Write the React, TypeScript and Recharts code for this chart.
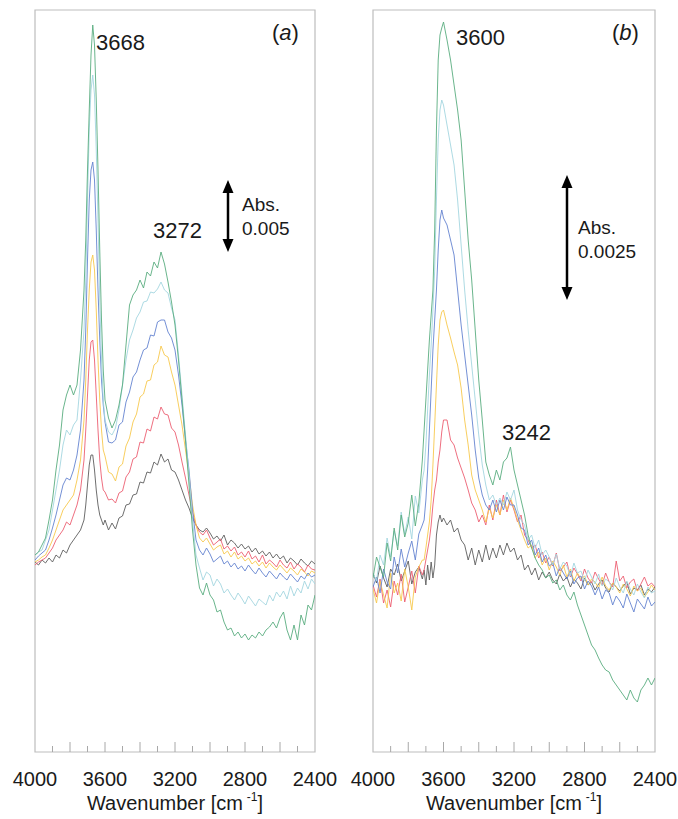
import React from 'react';
import { LineChart, Line, XAxis, YAxis, ReferenceArea, ReferenceLine } from 'recharts';

// wavenumber grid (cm-1), finer around the sharp 3668 band
const WAVENUMBERS = [
  4000, 3980, 3960, 3940, 3920, 3900, 3880, 3860, 3840, 3820, 3800, 3780, 3760, 3740, 3720,
  3710, 3700, 3690, 3680, 3670, 3660, 3650, 3640, 3630, 3620, 3610,
  3600, 3580, 3560, 3540, 3520, 3500, 3480, 3460, 3440, 3420,
  3400, 3380, 3360, 3340, 3320, 3300, 3280, 3260, 3240, 3220,
  3200, 3180, 3160, 3140, 3120, 3100, 3080, 3060, 3040, 3020,
  3000, 2980, 2960, 2940, 2920, 2900, 2880, 2860, 2840, 2820,
  2800, 2780, 2760, 2740, 2720, 2700, 2680, 2660, 2640, 2620,
  2600, 2580, 2560, 2540, 2520, 2500, 2480, 2460, 2440, 2420,
  2400,
];

const TICK_LABELS = [4000, 3600, 3200, 2800, 2400];
const MINOR_TICKS = [3900, 3800, 3700, 3600, 3500, 3400, 3300, 3200, 3100, 3000, 2900, 2800, 2700, 2600, 2500];

// panel (a) difference absorbance, arbitrary units (0.005 Abs = 70)
const A_GREEN = [
  5, 8, 15, 22, 40, 60, 90, 115, 150, 165, 175, 165, 175, 210, 270,
  320, 390, 450, 505, 535, 515, 460, 390, 310, 240, 190,
  160, 142, 132, 140, 155, 175, 215, 255, 265, 270,
  280, 272, 288, 284, 298, 292, 308, 296, 278, 258,
  235, 200, 160, 120, 75, 30, -5, -28, -35, -23,
  -35, -40, -52, -50, -62, -70, -68, -76, -72, -78,
  -74, -80, -75, -78, -72, -76, -70, -67, -62, -68,
  -58, -52, -70, -80, -65, -80, -55, -65, -45, -50,
  -35,
];
const A_CYAN = [
  5, 8, 10, 20, 30, 50, 70, 90, 115, 130, 125, 135, 140, 180, 230,
  280, 360, 430, 470, 485, 465, 410, 340, 260, 200, 160,
  140, 128, 125, 132, 150, 175, 200, 220, 230, 242,
  248, 258, 259, 268, 267, 271, 278, 270, 267, 252,
  240, 205, 165, 125, 85, 40, 5, -8, -20, -12,
  -15, -26, -19, -24, -33, -29, -35, -40, -33, -38,
  -44, -36, -41, -46, -39, -42, -45, -35, -41, -32,
  -37, -31, -39, -26, -36, -28, -33, -21, -29, -19,
  -24,
];
const A_BLUE = [
  0, 4, 7, 10, 20, 32, 45, 60, 75, 82, 80, 90, 105, 130, 180,
  230, 300, 360, 390, 398, 380, 330, 270, 220, 180, 155,
  138, 118, 117, 120, 135, 138, 158, 168, 183, 188,
  200, 210, 212, 225, 224, 238, 240, 240, 228, 222,
  210, 185, 155, 120, 90, 50, 20, 10, 5, 12,
  6, -2, 1, 4, -4, -1, -7, -3, -9, -6,
  -11, -5, -10, -14, -8, -13, -17, -11, -15, -19,
  -13, -17, -20, -14, -18, -22, -16, -19, -13, -17,
  -15,
];
const A_YELLOW = [
  -2, 0, 3, 5, 12, 20, 30, 40, 50, 55, 60, 65, 80, 100, 140,
  180, 230, 270, 298, 305, 290, 250, 200, 160, 130, 110,
  104, 88, 86, 79, 93, 96, 114, 122, 138, 146,
  163, 166, 179, 180, 195, 198, 214, 205, 203, 188,
  175, 155, 135, 110, 85, 55, 35, 22, 18, 22,
  16, 10, 13, 15, 6, 9, 3, 8, 1, 4,
  -1, 2, -4, -1, -6, -2, -8, -3, -7, -10,
  -5, -9, -13, -8, -11, -15, -9, -12, -16, -11,
  -13,
];
const A_RED = [
  -5, -2, 0, 2, 7, 12, 20, 25, 30, 38, 35, 45, 55, 70, 100,
  130, 165, 200, 218, 220, 200, 165, 130, 100, 82, 70,
  68, 60, 61, 57, 67, 69, 83, 88, 101, 103,
  118, 117, 131, 129, 143, 141, 153, 146, 145, 132,
  128, 115, 98, 82, 65, 48, 35, 28, 25, 30,
  22, 15, 18, 21, 11, 14, 9, 13, 5, 8,
  3, 9, 1, 4, -2, 5, -4, 0, -3, -7,
  0, -5, -8, -2, -9, -4, -7, -12, -5, -9,
  -10,
];
const A_GRAY = [
  -2, -5, 0, -3, 2, -2, 5, 2, 10, 7, 15, 20, 25, 30, 40,
  55, 75, 95, 105, 105, 90, 70, 55, 45, 40, 35,
  40, 30, 37, 31, 42, 44, 55, 56, 65, 66,
  78, 77, 88, 87, 98, 95, 106, 98, 101, 90,
  88, 80, 70, 60, 52, 42, 35, 30, 28, 32,
  27, 21, 24, 19, 25, 15, 20, 17, 12, 16,
  11, 14, 8, 12, 6, 9, 4, 8, 2, 6,
  1, 4, -3, 2, -1, -5, 1, -3, -6, -1,
  -4,
];

// panel (b) difference absorbance, arbitrary units (0.0025 Abs = 125)
const B_GREEN = [
  -3, 18, 8, -2, 32, 14, 47, 25, 60, 38, 52, 80, 49, 72, 115,
  145, 175, 205, 235, 260, 285, 345, 445, 515, 540, 547,
  553, 535, 515, 490, 465, 435, 385, 335, 295, 245,
  195, 155, 113, 100, 90, 105, 95, 113, 117, 128,
  105, 90, 75, 60, 40, 27, 17, 10, 5, -3,
  0, -8, -5, -15, -10, -20, -25, -17, -30, -40,
  -50, -60, -70, -75, -83, -90, -95, -97, -105, -110,
  -115, -120, -125, -115, -123, -127, -115, -110, -103, -110,
  -103,
];
const B_CYAN = [
  2, -6, 20, 10, 37, 18, 44, 29, 63, 41, 58, 36, 79, 62, 95,
  105, 130, 165, 200, 230, 265, 305, 375, 435, 465, 475,
  470, 450, 430, 410, 375, 330, 285, 245, 210, 175,
  140, 110, 90, 75, 80, 70, 77, 70, 83, 75,
  85, 65, 55, 50, 35, 40, 27, 35, 20, 25,
  18, 10, 21, 6, 13, 9, -1, 12, 2, 4,
  -6, 5, -2, -9, 1, -11, -4, -7, -15, -3,
  -12, -18, -6, -14, -20, -9, -17, -23, -12, -18,
  -16,
];
const B_BLUE = [
  -12, -2, -18, 6, -7, -14, 18, 2, 26, 8, 22, 34, 15, 41, 50,
  55, 75, 105, 145, 185, 225, 255, 285, 325, 355, 365,
  357, 350, 335, 320, 285, 250, 220, 190, 160, 125,
  97, 80, 70, 65, 75, 63, 75, 65, 78, 70,
  70, 60, 47, 45, 30, 35, 20, 27, 13, 20,
  9, 12, -1, 8, 2, -4, 4, -9, -3, -1,
  -14, -6, -11, -20, -12, -24, -15, -18, -30, -21,
  -26, -33, -19, -28, -37, -24, -29, -34, -22, -31,
  -27,
];
const B_YELLOW = [
  -14, -28, -6, -20, -33, 2, -18, -8, -26, 6, -12, -35, -2, 8, 15,
  15, 27, 40, 53, 75, 110, 150, 190, 230, 255, 263,
  265, 250, 237, 223, 210, 187, 155, 130, 100, 85,
  75, 65, 53, 67, 57, 70, 60, 75, 65, 77,
  67, 55, 45, 35, 27, 30, 17, 23, 10, 17,
  5, 14, 8, 0, 10, -2, 6, -6, 2, -4,
  -1, -10, -4, -7, -13, -2, -11, -15, -8, -12,
  -18, -9, -14, -21, -11, -16, -13, -22, -17, -10,
  -15,
];
const B_RED = [
  -10, -22, -4, -28, -15, -32, -6, -20, 1, -27, -12, 4, -18, 9, 0,
  5, 15, 25, 35, 50, 70, 85, 95, 113, 125, 143,
  155, 155, 135, 130, 117, 107, 97, 85, 72, 65,
  53, 60, 50, 70, 55, 75, 60, 80, 63, 75,
  65, 53, 60, 40, 35, 27, 30, 17, 23, 12,
  18, 9, 22, 4, 8, 13, -2, 7, 1, -6,
  6, -3, -8, 3, -4, -10, 2, -7, -12, 14,
  -6, -1, -13, -7, -4, -16, -9, -2, -11, -8,
  -12,
];
const B_GRAY = [
  2, -8, 9, -3, -12, 6, 0, 11, -6, 4, 14, -9, 3, 8, -4,
  5, -10, 10, -5, 13, -3, 10, 40, 53, 60, 53,
  57, 50, 55, 43, 47, 35, 30, 15, 27, 10,
  25, 13, 30, 15, 27, 17, 30, 20, 32, 23,
  27, 15, 20, 5, 10, 0, 7, -5, 3, -3,
  3, -5, -9, 1, -6, -2, -12, -4, -8, -14,
  -3, -10, -7, -15, -9, -5, -13, -17, -8, -12,
  -16, -11, -7, -19, -13, -15, -10, -20, -14, -17,
  -12,
];

const SERIES = [
  { key: 'gray', color: '#5e5e5e' },
  { key: 'red', color: '#ec5f72' },
  { key: 'yellow', color: '#f7c94e' },
  { key: 'blue', color: '#6584d0' },
  { key: 'cyan', color: '#a4d6e0' },
  { key: 'green', color: '#5aad80' },
];

const FONT = '"Liberation Sans", Arial, Helvetica, sans-serif';
const INK = '#1a1a1a';

const rowsA = WAVENUMBERS.map((w, i) => ({
  w, gray: A_GRAY[i], red: A_RED[i], yellow: A_YELLOW[i], blue: A_BLUE[i], cyan: A_CYAN[i], green: A_GREEN[i],
}));
const rowsB = WAVENUMBERS.map((w, i) => ({
  w, gray: B_GRAY[i], red: B_RED[i], yellow: B_YELLOW[i], blue: B_BLUE[i], cyan: B_CYAN[i], green: B_GREEN[i],
}));

const AxisTitle = (props: any) => {
  const vb = props.viewBox || {};
  const cx = vb.x + vb.width / 2;
  return (
    <text x={cx} y={vb.y + 58} textAnchor="middle" fill={INK} fontSize={20} fontFamily={FONT}>
      Wavenumber [cm
      <tspan fontSize={12} dx={4} dy={-9}>-1</tspan>
      <tspan fontSize={20} dy={9}>]</tspan>
    </text>
  );
};

function SpectrumPanel({ rows, yMin, yMax, left, width, margin }: any) {
  return (
    <div style={{ position: 'absolute', left, top: 0 }}>
      <LineChart width={width} height={819} data={rows} margin={margin}>
        <XAxis
          type="number"
          dataKey="w"
          domain={[2400, 4000]}
          reversed
          allowDataOverflow
          ticks={TICK_LABELS}
          interval={0}
          tickLine={false}
          axisLine={false}
          tickSize={0}
          tickMargin={20}
          height={30}
          tick={{ fill: INK, fontSize: 20, fontFamily: FONT }}
          label={<AxisTitle />}
        />
        <YAxis type="number" domain={[yMin, yMax]} hide allowDataOverflow />
        <ReferenceArea x1={4000} x2={2400} y1={yMin} y2={yMax} fill="#fff" fillOpacity={0} stroke="#bdbdbd" strokeWidth={1.2} />
        {MINOR_TICKS.map((t) => (
          <ReferenceLine
            key={t}
            segment={[{ x: t, y: yMin }, { x: t, y: yMin + (t % 200 === 0 ? 10 : 6) }]}
            stroke="#a8a8a8"
            strokeWidth={1}
          />
        ))}
        {SERIES.map((s) => (
          <Line
            key={s.key}
            type="linear"
            dataKey={s.key}
            stroke={s.color}
            strokeWidth={1}
            strokeOpacity={0.9}
            dot={false}
            activeDot={false}
            isAnimationActive={false}
          />
        ))}
      </LineChart>
    </div>
  );
}

const Arrow = ({ x, y1, y2 }: { x: number; y1: number; y2: number }) => (
  <g fill="#000" stroke="none">
    <line x1={x} y1={y1 + 10} x2={x} y2={y2 - 10} stroke="#000" strokeWidth={2.5} />
    <polygon points={`${x},${y1} ${x - 5.5},${y1 + 13} ${x + 5.5},${y1 + 13}`} />
    <polygon points={`${x},${y2} ${x - 5.5},${y2 - 13} ${x + 5.5},${y2 - 13}`} />
  </g>
);

export default function App() {
  const txt = { fill: INK, fontSize: 22, fontFamily: FONT } as const;
  const abs = { fill: INK, fontSize: 19, fontFamily: FONT } as const;
  return (
    <div style={{ position: 'absolute', left: 0, top: 0, width: 678, height: 819, background: '#fff' }}>
      <SpectrumPanel rows={rowsA} yMin={-192} yMax={550} left={0} width={340}
        margin={{ top: 10, right: 25, bottom: 37, left: 35 }} />
      <SpectrumPanel rows={rowsB} yMin={-177} yMax={565} left={340} width={338}
        margin={{ top: 10, right: 23, bottom: 37, left: 33 }} />
      <svg width={678} height={819} style={{ position: 'absolute', left: 0, top: 0, pointerEvents: 'none' }}>
        {/* panel (a) */}
        <text x={96} y={50} {...txt}>3668</text>
        <text x={272} y={40} {...txt}>(<tspan fontStyle="italic">a</tspan>)</text>
        <text x={153} y={238} {...txt}>3272</text>
        <Arrow x={228} y1={180} y2={252} />
        <text x={242} y={211} {...abs}>Abs.</text>
        <text x={242} y={235} {...abs}>0.005</text>
        {/* panel (b) */}
        <text x={456} y={45} {...txt}>3600</text>
        <text x={612} y={40} {...txt}>(<tspan fontStyle="italic">b</tspan>)</text>
        <text x={502} y={440} {...txt}>3242</text>
        <Arrow x={567} y1={175} y2={300} />
        <text x={578} y={234} {...abs}>Abs.</text>
        <text x={578} y={258} {...abs}>0.0025</text>
      </svg>
    </div>
  );
}
